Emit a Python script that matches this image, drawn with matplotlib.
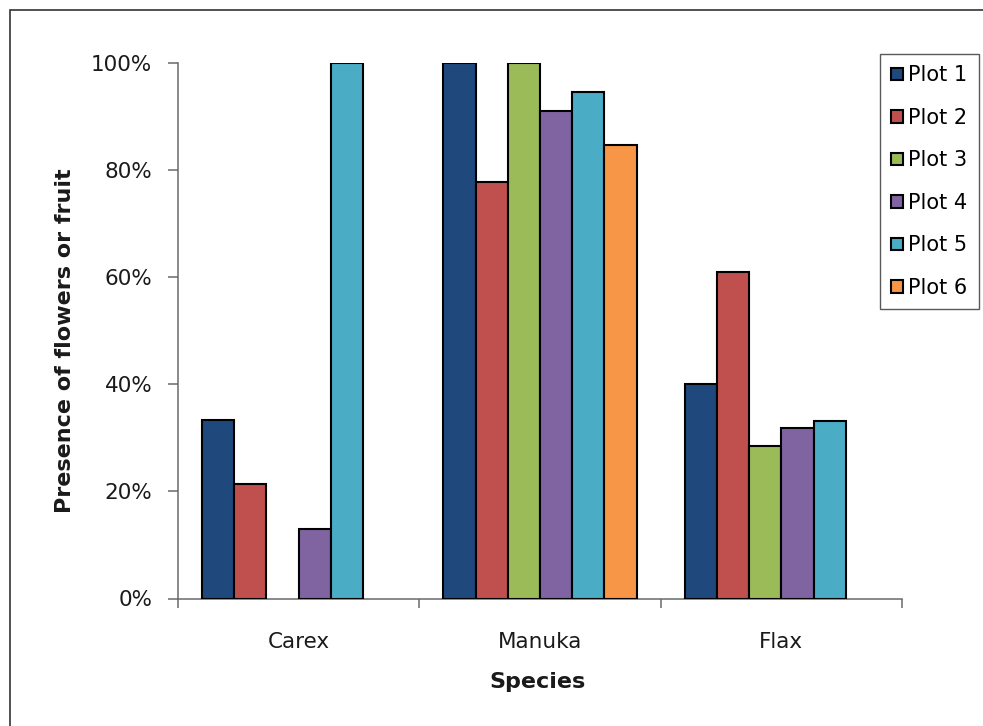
import numpy as np
import matplotlib
matplotlib.use("Agg")
import matplotlib.pyplot as plt
from matplotlib.patches import Rectangle
from matplotlib.ticker import PercentFormatter, FixedLocator

plt.rcParams['font.family'] = ['DejaVu Sans']

# Share of plants with flowers or fruit, per species and plot
species = ["Carex", "Manuka", "Flax"]
plot_names = ["Plot 1", "Plot 2", "Plot 3", "Plot 4", "Plot 5", "Plot 6"]
plot1 = [0.333, 1.000, 0.400]
plot2 = [0.213, 0.778, 0.610]
plot3 = [np.nan, 1.000, 0.284]
plot4 = [0.129, 0.910, 0.318]
plot5 = [1.000, 0.945, 0.332]
plot6 = [np.nan, 0.847, np.nan]
series = [plot1, plot2, plot3, plot4, plot5, plot6]
colors = ["#1F497D", "#C0504D", "#9BBB59", "#8064A2", "#4BACC6", "#F79646"]
yticks = [0.0, 0.2, 0.4, 0.6, 0.8, 1.0]

W, H = 983, 726
fig = plt.figure(figsize=(W / 100, H / 100), dpi=100)
ax = fig.add_axes([178 / W, 1 - 598.5 / H, 724 / W, 535.8 / H])

n = len(series)
width = 1 / (n + 1.5)
x = np.arange(len(species))
for j, (vals, col, name) in enumerate(zip(series, colors, plot_names)):
    ax.bar(x + (j - (n - 1) / 2) * width, vals, width=width, color=col,
           edgecolor="black", linewidth=1.5, label=name, zorder=3)

ax.set_xlim(-0.5, len(species) - 0.5)
ax.set_ylim(0, 1)

axis_gray = "#6a6a6a"
for s in ("top", "right"):
    ax.spines[s].set_visible(False)
for s in ("left", "bottom"):
    ax.spines[s].set_color(axis_gray)
    ax.spines[s].set_linewidth(1.1)

ax.yaxis.set_major_locator(FixedLocator(yticks))
ax.yaxis.set_major_formatter(PercentFormatter(1.0, decimals=0))
ax.tick_params(axis="y", direction="out", length=7.5, width=1.1, color=axis_gray,
               pad=11, labelsize=15.5, labelcolor="#1a1a1a")

# category boundaries as major ticks, names on minor ticks at group centres
ax.set_xticks(np.arange(len(species) + 1) - 0.5)
ax.set_xticklabels([])
ax.set_xticks(x, minor=True)
ax.set_xticklabels(species, minor=True)
ax.tick_params(axis="x", which="major", direction="out", length=6.5, width=1.1,
               color=axis_gray)
ax.tick_params(axis="x", which="minor", length=0, pad=24, labelsize=15.5,
               labelcolor="#1a1a1a")

ax.set_xlabel("Species", fontsize=16, fontweight="bold", color="#1a1a1a")
ax.xaxis.set_label_coords(0.4965, -0.137)
ax.set_ylabel("Presence of flowers or fruit", fontsize=16, fontweight="bold",
              color="#1a1a1a")
ax.yaxis.set_label_coords(-0.142, 0.4806)

leg = ax.legend(loc="upper left", bbox_to_anchor=(880 / W, 1 - 54 / H),
                bbox_transform=fig.transFigure, fontsize=15, frameon=True,
                fancybox=False, edgecolor="#303030", handlelength=0.55,
                handleheight=0.55, handletextpad=0.25, labelspacing=1.08,
                borderpad=0.55, borderaxespad=0)
leg.get_frame().set_linewidth(1.0)

# outer chart border
fig.patches.append(Rectangle((10 / W, -0.05), 1.1, 1 - 10.5 / H + 0.05,
                             transform=fig.transFigure, fill=False,
                             edgecolor="#333333", linewidth=1.2))

fig.savefig("out.png", dpi=100)
